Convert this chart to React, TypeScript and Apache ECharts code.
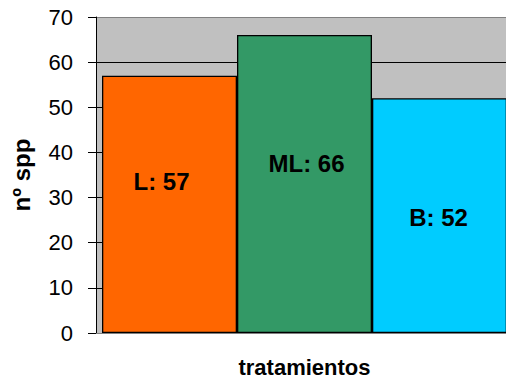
import React, { useEffect, useRef } from "react";
import * as echarts from "echarts";

const categories = ["L", "ML", "B"];
const values = [57, 66, 52];
const barColors = ["#FF6600", "#339966", "#00CCFF"];
const labelOffsets = [[-8, -23], [2, -21], [-1, 1.5]];
const yMin = 0;
const yMax = 70;
const yInterval = 10;
const splitColors = ["#808080", "#000", "#000", "#000", "#000", "#000", "#000", "#808080"];

const FONT = "'Liberation Sans', Arial, sans-serif";

export default function App() {
  const ref = useRef<HTMLDivElement>(null);
  useEffect(() => {
    if (!ref.current) return;
    const chart = echarts.init(ref.current, undefined, { renderer: "svg" });
    const yCommon = {
      type: "value" as const,
      min: yMin,
      max: yMax,
      interval: yInterval,
      splitLine: { show: true, lineStyle: { color: splitColors, width: 1 } },
    };
    chart.setOption({
      animation: false,
      backgroundColor: "#fff",
      textStyle: { fontFamily: FONT },
      grid: [
        { left: 96, width: 6, top: 17, bottom: 52, show: true, backgroundColor: "#C0C0C0", borderWidth: 0, containLabel: false, outerBoundsMode: "none" },
        { left: 102, width: 405, top: 17, bottom: 52, show: true, backgroundColor: "#C0C0C0", borderWidth: 0, containLabel: false, outerBoundsMode: "none" },
      ],
      xAxis: [
        {
          gridIndex: 0,
          type: "category",
          data: [""],
          axisLine: { show: true, lineStyle: { color: "#808080", width: 1 } },
          axisTick: { show: false },
          axisLabel: { show: false },
        },
        {
          gridIndex: 1,
          type: "category",
          data: categories,
          axisLine: { show: true, lineStyle: { color: "#808080", width: 1 } },
          axisTick: { show: false },
          axisLabel: { show: false },
          name: "tratamientos",
          nameLocation: "middle",
          nameGap: 23,
          nameTextStyle: { fontFamily: FONT, fontWeight: "bold", fontSize: 22, color: "#000" },
        },
      ],
      yAxis: [
        {
          gridIndex: 0,
          ...yCommon,
          axisLine: { show: true, lineStyle: { color: "#000", width: 1 } },
          axisTick: { show: true, length: 8, lineStyle: { color: "#000" } },
          axisLabel: { show: true, margin: 23, fontFamily: FONT, fontSize: 22, color: "#000" },
          name: "nº spp",
          nameLocation: "middle",
          nameRotate: 90,
          nameGap: 63,
          nameTextStyle: { fontFamily: FONT, fontWeight: "bold", fontSize: 24, color: "#000" },
        },
        {
          gridIndex: 1,
          ...yCommon,
          axisLine: { show: false },
          axisTick: { show: false },
          axisLabel: { show: false },
        },
      ],
      series: [
        {
          type: "bar",
          xAxisIndex: 1,
          yAxisIndex: 1,
          barCategoryGap: "0%",
          data: values.map((v, i) => ({
            value: v,
            itemStyle: { color: barColors[i], borderColor: "#000", borderWidth: 1.3 },
            label: {
              show: true,
              position: "inside",
              offset: labelOffsets[i],
              formatter: `${categories[i]}: ${v}`,
              fontFamily: FONT,
              fontWeight: "bold",
              fontSize: 24,
              color: "#000",
            },
          })),
        },
      ],
    });
    return () => chart.dispose();
  }, []);
  return <div ref={ref} style={{ width: 506, height: 385, position: "fixed", left: 0, top: 0 }} />;
}
